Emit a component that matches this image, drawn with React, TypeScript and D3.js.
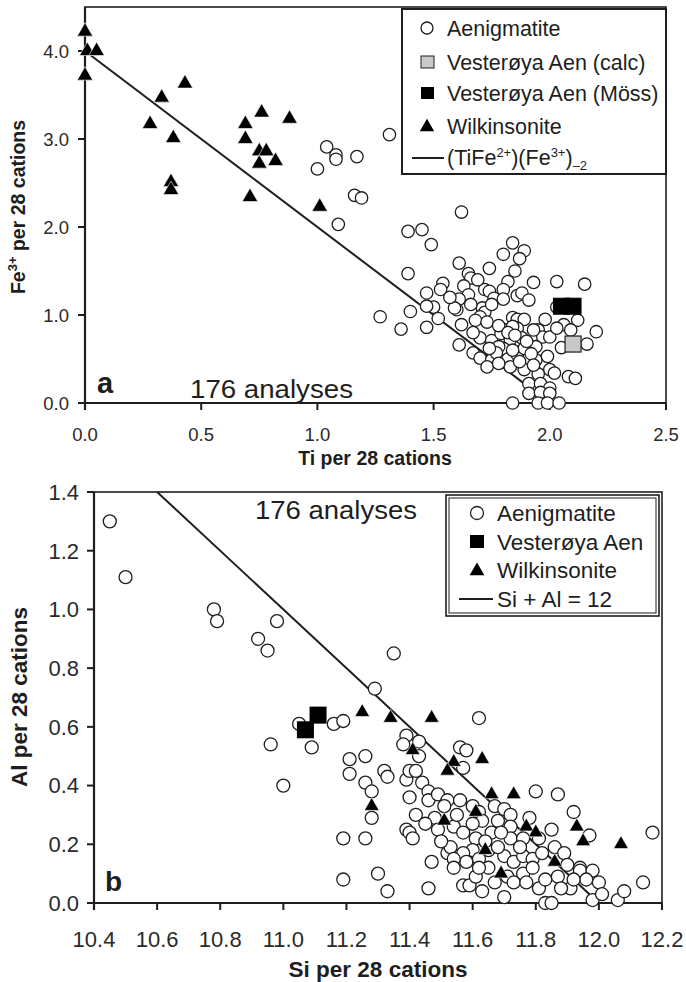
import React from 'react';
import * as d3 from 'd3';

const W = 686;
const H = 982;
const FONT = '"Liberation Sans", Arial, Helvetica, sans-serif';
const INK = '#1e1e1e';

// ---- panel a: Fe3+ vs Ti (per 28 cations)
const aTicksX = [0, 0.5, 1.0, 1.5, 2.0, 2.5];
const aTicksY = [0, 1, 2, 3, 4];

const aAenigmatite: [number, number][] = [
  [1.00, 2.66], [1.04, 2.91], [1.08, 2.82], [1.08, 2.77], [1.17, 2.80], [1.16, 2.36], [1.19, 2.33],
  [1.09, 2.03], [1.31, 3.05], [1.62, 2.17], [1.39, 1.95], [1.45, 1.97], [1.49, 1.80], [1.39, 1.47],
  [1.27, 0.98], [1.40, 1.04], [1.36, 0.84], [1.47, 0.86],
  [1.84, 1.82], [1.89, 1.73], [1.80, 1.69], [1.87, 1.64], [1.61, 1.59], [1.74, 1.53], [1.85, 1.50],
  [1.65, 1.47], [1.66, 1.42], [1.82, 1.38], [1.93, 1.37], [2.03, 1.38], [2.15, 1.35], [1.54, 1.36],
  [1.53, 1.29], [1.47, 1.25], [1.63, 1.33], [1.65, 1.23], [1.61, 1.18], [1.60, 1.06], [1.50, 1.09],
  [1.47, 1.10], [1.52, 0.96], [1.72, 1.29], [1.74, 1.27], [1.80, 1.29], [1.76, 1.19], [1.80, 1.18],
  [1.86, 1.22], [1.88, 1.25], [1.91, 1.17], [1.71, 1.08], [1.72, 1.03], [1.70, 0.98], [1.68, 0.94],
  [1.73, 0.92], [1.84, 0.97], [1.86, 0.95], [1.89, 0.95], [1.86, 0.85], [1.81, 0.83], [1.95, 0.83],
  [2.03, 1.09], [2.06, 0.89], [2.12, 0.94], [2.09, 0.83], [2.20, 0.81], [2.16, 0.67], [2.05, 0.63],
  [1.97, 0.75], [2.00, 0.75], [1.61, 0.66], [1.70, 0.74], [1.75, 0.71], [1.79, 0.79], [1.83, 0.72],
  [1.88, 0.74], [1.80, 0.62], [1.94, 0.64], [1.67, 0.57], [1.70, 0.51], [1.75, 0.49], [1.73, 0.41],
  [1.82, 0.50], [1.86, 0.55], [1.89, 0.62], [1.94, 0.49], [1.99, 0.53], [2.00, 0.38], [1.83, 0.41],
  [1.89, 0.38], [1.95, 0.33], [2.02, 0.34], [2.08, 0.30], [2.11, 0.28], [1.91, 0.22], [1.96, 0.22],
  [2.00, 0.17], [1.91, 0.11], [1.96, 0.12], [2.00, 0.11], [1.84, 0.00], [1.95, 0.00], [1.99, 0.00],
  [2.04, 0.00], [1.78, 0.64], [1.84, 0.87], [1.93, 0.83], [1.59, 1.08], [1.62, 0.89],
  [1.78, 0.88], [1.82, 0.80], [1.85, 0.77], [1.90, 0.70], [1.77, 0.57], [1.84, 0.60], [1.87, 0.47],
  [1.92, 0.56], [1.78, 0.45], [1.93, 0.43], [1.74, 0.62], [1.67, 0.80], [1.66, 1.12], [1.75, 1.12],
  [1.57, 1.20], [1.69, 1.40], [1.98, 0.95], [2.03, 0.85],
];
const aVestCalc: [number, number][] = [[2.10, 0.67]];
const aVestMoss: [number, number][] = [[2.05, 1.10], [2.10, 1.10]];
const aWilkinsonite: [number, number][] = [
  [0.00, 4.22], [0.01, 4.00], [0.05, 4.00], [0.00, 3.72], [0.43, 3.63], [0.33, 3.47], [0.28, 3.17],
  [0.38, 3.01], [0.37, 2.51], [0.37, 2.42], [0.69, 3.17], [0.69, 3.00], [0.76, 3.30], [0.75, 2.86],
  [0.78, 2.86], [0.75, 2.72], [0.82, 2.75], [0.88, 3.23], [0.71, 2.34], [1.01, 2.23],
];
const aLine: [number, number][] = [[0, 4.0], [1.89, 0.22]];

// ---- panel b: Al vs Si (per 28 cations)
const bTicksX = [10.4, 10.6, 10.8, 11.0, 11.2, 11.4, 11.6, 11.8, 12.0, 12.2];
const bTicksY = [0, 0.2, 0.4, 0.6, 0.8, 1.0, 1.2, 1.4];

const bAenigmatite: [number, number][] = [
  [10.45, 1.30], [10.50, 1.11], [10.78, 1.00], [10.79, 0.96], [10.92, 0.90], [10.95, 0.86], [10.98, 0.96],
  [10.96, 0.54], [11.00, 0.40], [11.09, 0.53], [11.05, 0.61], [11.19, 0.22], [11.19, 0.08], [11.35, 0.85],
  [11.29, 0.73], [11.16, 0.61], [11.19, 0.62], [11.39, 0.57], [11.38, 0.54], [11.43, 0.55], [11.56, 0.53],
  [11.58, 0.52], [11.62, 0.63], [11.21, 0.49], [11.26, 0.50], [11.43, 0.50],
  [11.21, 0.44], [11.32, 0.45], [11.33, 0.43], [11.26, 0.41], [11.28, 0.38], [11.28, 0.29], [11.39, 0.42],
  [11.40, 0.36], [11.40, 0.45], [11.42, 0.45], [11.44, 0.41], [11.46, 0.38], [11.46, 0.35], [11.42, 0.30],
  [11.39, 0.25], [11.40, 0.24], [11.41, 0.22], [11.26, 0.22], [11.30, 0.10], [11.33, 0.04], [11.46, 0.05],
  [11.57, 0.46], [11.49, 0.37], [11.52, 0.35], [11.51, 0.33], [11.48, 0.29], [11.49, 0.25], [11.54, 0.26],
  [11.57, 0.24], [11.56, 0.35], [11.60, 0.33], [11.62, 0.31], [11.63, 0.28], [11.67, 0.33], [11.70, 0.32],
  [11.72, 0.30], [11.72, 0.26], [11.68, 0.28], [11.66, 0.24], [11.61, 0.22], [11.60, 0.18], [11.65, 0.18],
  [11.52, 0.17], [11.57, 0.17], [11.58, 0.14], [11.62, 0.15], [11.65, 0.12], [11.57, 0.06], [11.59, 0.06],
  [11.61, 0.09], [11.70, 0.16], [11.73, 0.14], [11.76, 0.16], [11.79, 0.15], [11.71, 0.09], [11.73, 0.07],
  [11.70, 0.02], [11.76, 0.10], [11.77, 0.07], [11.81, 0.05], [11.83, 0.08], [11.87, 0.09], [11.83, 0.00],
  [11.85, 0.00], [11.72, 0.22], [11.76, 0.22], [11.81, 0.22], [11.85, 0.25], [11.86, 0.19], [11.82, 0.17],
  [11.89, 0.17], [11.90, 0.13], [11.94, 0.12], [11.94, 0.11], [11.98, 0.11], [11.96, 0.08], [11.91, 0.05],
  [12.00, 0.07], [11.98, 0.01], [12.01, 0.03], [12.06, 0.01], [12.08, 0.04], [12.14, 0.07], [12.17, 0.24],
  [11.80, 0.38], [11.87, 0.37], [11.92, 0.31], [11.97, 0.23], [11.53, 0.19], [11.54, 0.15], [11.54, 0.12],
  [11.62, 0.12],
  [11.60, 0.27], [11.64, 0.21], [11.68, 0.19], [11.75, 0.19], [11.79, 0.12], [11.67, 0.07], [11.63, 0.04],
  [11.88, 0.05], [11.92, 0.08], [11.55, 0.30], [11.45, 0.27], [11.50, 0.21], [11.47, 0.14], [11.69, 0.24],
  [11.78, 0.29],
];
const bVesteroya: [number, number][] = [[11.11, 0.64], [11.07, 0.59]];
const bWilkinsonite: [number, number][] = [
  [11.25, 0.65], [11.34, 0.63], [11.47, 0.63], [11.41, 0.52], [11.54, 0.48], [11.52, 0.45], [11.63, 0.49],
  [11.28, 0.33], [11.66, 0.37], [11.73, 0.37], [11.61, 0.31], [11.51, 0.28], [11.77, 0.26], [11.80, 0.24],
  [11.93, 0.26], [11.95, 0.21], [12.07, 0.20], [11.64, 0.18], [11.86, 0.14], [11.69, 0.10],
];
const bLine: [number, number][] = [[10.6, 1.4], [11.97, 0.03]];

const tri = (size: number) => d3.symbol(d3.symbolTriangle, size)() as string;

type Box = { left: number; right: number; top: number; bottom: number };

function Frame({ box, x, y, xTicks, yTicks, fs, xLabelY, yLabelX }: {
  box: Box; x: d3.ScaleLinear<number, number>; y: d3.ScaleLinear<number, number>;
  xTicks: number[]; yTicks: number[]; fs: number; xLabelY: number; yLabelX: number;
}) {
  const fmt = d3.format('.1f');
  return (
    <g>
      <rect x={box.left} y={box.top} width={box.right - box.left} height={box.bottom - box.top}
        fill="none" stroke={INK} strokeWidth={1.6} />
      <line x1={box.left} x2={box.left} y1={box.top} y2={box.bottom + 7} stroke={INK} strokeWidth={2.2} />
      <line x1={box.left - 7} x2={box.right} y1={box.bottom} y2={box.bottom} stroke={INK} strokeWidth={2.2} />
      {xTicks.map(t => (
        <g key={'x' + t}>
          <line x1={x(t)} x2={x(t)} y1={box.bottom} y2={box.bottom + 7} stroke={INK} strokeWidth={2} />
          <text x={x(t)} y={xLabelY} fontSize={fs} textAnchor="middle" fill="#2a2a2a">{fmt(t)}</text>
        </g>
      ))}
      {yTicks.map(t => (
        <g key={'y' + t}>
          <line x1={box.left - 7} x2={box.left} y1={y(t)} y2={y(t)} stroke={INK} strokeWidth={2} />
          <text x={yLabelX} y={y(t) + fs * 0.36} fontSize={fs} textAnchor="end" fill="#2a2a2a">{fmt(t)}</text>
        </g>
      ))}
    </g>
  );
}

export default function App() {
  const aBox = { left: 85, right: 666, top: 7, bottom: 403 };
  const ax = d3.scaleLinear().domain([0, 2.5]).range([aBox.left, aBox.right]);
  const ay = d3.scaleLinear().domain([0, 4.5]).range([aBox.bottom, aBox.top]);

  const bBox = { left: 94, right: 662, top: 492, bottom: 903 };
  const bx = d3.scaleLinear().domain([10.4, 12.2]).range([bBox.left, bBox.right]);
  const by = d3.scaleLinear().domain([0, 1.4]).range([bBox.bottom, bBox.top]);

  const aLinePath = d3.line<[number, number]>().x(d => ax(d[0])).y(d => ay(d[1]))(aLine) as string;
  const bLinePath = d3.line<[number, number]>().x(d => bx(d[0])).y(d => by(d[1]))(bLine) as string;

  const triA = tri(105);
  const triB = tri(95);

  return (
    <svg width={W} height={H} viewBox={`0 0 ${W} ${H}`}
      style={{ position: 'absolute', left: 0, top: 0, background: '#fff' }}
      fontFamily={FONT} fill={INK}>
      <rect x={0} y={0} width={W} height={H} fill="#fff" />

      {/* ---------- panel a ---------- */}
      <Frame box={aBox} x={ax} y={ay} xTicks={aTicksX} yTicks={aTicksY} fs={18.5} xLabelY={441} yLabelX={69} />
      <text x={375} y={465} fontSize={19.5} fontWeight="bold" textAnchor="middle">Ti per 28 cations</text>
      <text transform="translate(25,207) rotate(-90)" fontSize={19.5} fontWeight="bold" textAnchor="middle">
        Fe<tspan dy={-8} fontSize={13}>3+</tspan><tspan dy={8}> per 28 cations</tspan>
      </text>
      <text x={97} y={393} fontSize={29} fontWeight="bold">a</text>
      <text x={190} y={398} fontSize={26} textLength={163} lengthAdjust="spacingAndGlyphs">176 analyses</text>

      <path d={aLinePath} stroke={INK} strokeWidth={2} fill="none" />
      {aAenigmatite.map((d, i) => (
        <circle key={i} cx={ax(d[0])} cy={ay(d[1])} r={6.2} fill="#fff" stroke={INK} strokeWidth={1.3} />
      ))}
      {aVestMoss.map((d, i) => (
        <rect key={i} x={ax(d[0]) - 8} y={ay(d[1]) - 8} width={16} height={16} fill="#000" stroke="#000" strokeWidth={1} />
      ))}
      {aVestCalc.map((d, i) => (
        <rect key={i} x={ax(d[0]) - 8} y={ay(d[1]) - 8} width={16} height={16} fill="#c8c8c8" stroke={INK} strokeWidth={1.2} />
      ))}
      {aWilkinsonite.map((d, i) => (
        <path key={i} d={triA} transform={`translate(${ax(d[0])},${ay(d[1])})`} fill="#000" stroke="#fff" strokeWidth={0.6} />
      ))}

      {/* legend a */}
      <rect x={402} y={9} width={264} height={165} fill="#fff" stroke={INK} strokeWidth={2} />
      <circle cx={427} cy={28} r={6} fill="#fff" stroke={INK} strokeWidth={1.3} />
      <text x={447} y={35.5} fontSize={21.5}>Aenigmatite</text>
      <rect x={421} y={56} width={13} height={12} fill="#c8c8c8" stroke={INK} strokeWidth={1} />
      <text x={447} y={69.5} fontSize={21.5}>Vesterøya Aen (calc)</text>
      <rect x={421} y={87} width={13} height={12} fill="#000" />
      <text x={447} y={100.5} fontSize={21.5}>Vesterøya Aen (Möss)</text>
      <path d={tri(90)} transform="translate(427,127)" fill="#000" />
      <text x={447} y={133.5} fontSize={21.5}>Wilkinsonite</text>
      <line x1={412} x2={444} y1={158} y2={158} stroke={INK} strokeWidth={2} />
      <text x={447} y={165} fontSize={21.5}>
        (TiFe<tspan dy={-8} fontSize={13}>2+</tspan><tspan dy={8}>)(Fe</tspan><tspan dy={-8} fontSize={13}>3+</tspan><tspan dy={8}>)</tspan><tspan dy={5} fontSize={13}>–2</tspan>
      </text>

      {/* ---------- panel b ---------- */}
      <Frame box={bBox} x={bx} y={by} xTicks={bTicksX} yTicks={bTicksY} fs={22} xLabelY={947} yLabelX={79} />
      <text x={378} y={977} fontSize={22.5} fontWeight="bold" textAnchor="middle">Si per 28 cations</text>
      <text transform="translate(27,697) rotate(-90)" fontSize={22.5} fontWeight="bold" textAnchor="middle">Al per 28 cations</text>
      <text x={105} y={891} fontSize={28} fontWeight="bold">b</text>
      <text x={255} y={519} fontSize={26} textLength={162} lengthAdjust="spacingAndGlyphs">176 analyses</text>

      <path d={bLinePath} stroke={INK} strokeWidth={2} fill="none" />
      {bAenigmatite.map((d, i) => (
        <circle key={i} cx={bx(d[0])} cy={by(d[1])} r={6.5} fill="#fff" stroke={INK} strokeWidth={1.3} />
      ))}
      {bVesteroya.map((d, i) => (
        <rect key={i} x={bx(d[0]) - 8.5} y={by(d[1]) - 8.5} width={17} height={17} fill="#000" />
      ))}
      {bWilkinsonite.map((d, i) => (
        <path key={i} d={triB} transform={`translate(${bx(d[0])},${by(d[1])})`} fill="#000" stroke="#fff" strokeWidth={0.6} />
      ))}

      {/* legend b */}
      <rect x={446} y={495} width={213} height={121} fill="#fff" stroke={INK} strokeWidth={1.6} />
      <rect x={449} y={498} width={207} height={115} fill="none" stroke={INK} strokeWidth={1} />
      <circle cx={477} cy={513} r={6.5} fill="#fff" stroke={INK} strokeWidth={1.3} />
      <text x={497} y={521} fontSize={22.5}>Aenigmatite</text>
      <rect x={470} y={535} width={14} height={13} fill="#000" />
      <text x={497} y={550} fontSize={22.5}>Vesterøya Aen</text>
      <path d={tri(95)} transform="translate(477,571)" fill="#000" />
      <text x={497} y={578} fontSize={22.5}>Wilkinsonite</text>
      <line x1={459} x2={493} y1={599} y2={599} stroke={INK} strokeWidth={2} />
      <text x={497} y={607} fontSize={22.5}>Si + Al = 12</text>
    </svg>
  );
}
